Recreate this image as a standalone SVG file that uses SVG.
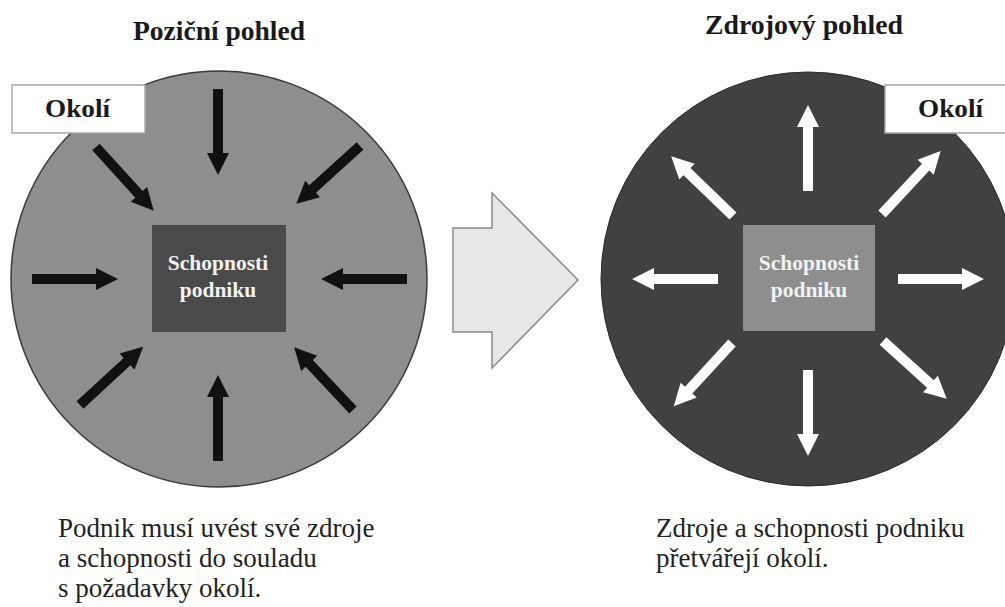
<svg xmlns="http://www.w3.org/2000/svg" xmlns:xlink="http://www.w3.org/1999/xlink" width="1005" height="607" viewBox="0 0 1005 607">
<style>
.title{font-family:"Liberation Serif",serif;font-weight:bold;font-size:27px;fill:#1a1a1a}
.okoli{font-family:"Liberation Serif",serif;font-weight:bold;font-size:26px;fill:#1a1a1a}
.inner{font-family:"Liberation Serif",serif;font-weight:bold;font-size:21.5px;fill:#f2f2f2;text-anchor:middle}
.body{font-family:"Liberation Serif",serif;font-size:27px;fill:#222}
.box{fill:#fff;stroke:#a8a8a8;stroke-width:1.5}
.blk{fill:#111}
.wht{fill:#fff}
</style>
<defs>
<path id="arr" d="M0,-5 H64 V-11 L86,0 L64,11 V5 H0 Z"/>
</defs>
<rect width="1005" height="607" fill="#fff"/>

<g id="left-view">
  <text class="title" x="133" y="40" textLength="172" lengthAdjust="spacingAndGlyphs">Poziční pohled</text>
  <circle cx="219" cy="279" r="208" fill="#8e8e8e" stroke="#3a3a3a" stroke-width="1.5"/>
  <g id="left-okoli">
    <rect class="box" x="12" y="85" width="133" height="48"/>
    <text class="okoli" x="45" y="117" textLength="65" lengthAdjust="spacingAndGlyphs">Okolí</text>
  </g>
  <g id="left-core">
    <rect x="152" y="225" width="134" height="107" fill="#4a4a4a"/>
    <text class="inner" x="218" y="270">Schopnosti</text>
    <text class="inner" x="218" y="297">podniku</text>
  </g>
</g>

<g id="right-view">
  <text class="title" x="705" y="34" textLength="198" lengthAdjust="spacingAndGlyphs">Zdrojový pohled</text>
  <circle cx="808" cy="279" r="207" fill="#414141" stroke="#2a2a2a" stroke-width="1"/>
  <g id="right-okoli">
    <rect class="box" x="885" y="85" width="130" height="48"/>
    <text class="okoli" x="918" y="117" textLength="65" lengthAdjust="spacingAndGlyphs">Okolí</text>
  </g>
  <g id="right-core">
    <rect x="743" y="225" width="132" height="106" fill="#8e8e8e"/>
    <text class="inner" x="809" y="270">Schopnosti</text>
    <text class="inner" x="809" y="297">podniku</text>
  </g>
</g>

<g id="transition">
  <polygon points="453,228 492,228 492,193 578,280 492,368 492,332 453,332" fill="#e8e8e8" stroke="#8a8a8a" stroke-width="1.5"/>
</g>

<g id="connectors">
  <g class="blk">
    <use xlink:href="#arr" transform="translate(218,89) rotate(90)"/>
    <use xlink:href="#arr" transform="translate(96,147) rotate(47.8)"/>
    <use xlink:href="#arr" transform="translate(360,146) rotate(137.8)"/>
    <use xlink:href="#arr" transform="translate(32,279) rotate(0)"/>
    <use xlink:href="#arr" transform="translate(407,279) rotate(180)"/>
    <use xlink:href="#arr" transform="translate(80,405) rotate(-42.7)"/>
    <use xlink:href="#arr" transform="translate(218,461) rotate(-90)"/>
    <use xlink:href="#arr" transform="translate(353,410) rotate(-133.2)"/>
  </g>
  <g class="wht">
    <use xlink:href="#arr" transform="translate(808,191) rotate(-90)"/>
    <use xlink:href="#arr" transform="translate(733,216) rotate(-136)"/>
    <use xlink:href="#arr" transform="translate(882,214) rotate(-47)"/>
    <use xlink:href="#arr" transform="translate(718,279) rotate(180)"/>
    <use xlink:href="#arr" transform="translate(898,279) rotate(0)"/>
    <use xlink:href="#arr" transform="translate(732,343) rotate(132.6)"/>
    <use xlink:href="#arr" transform="translate(808,370) rotate(90)"/>
    <use xlink:href="#arr" transform="translate(883,341) rotate(42.2)"/>
  </g>
</g>

<g id="captions">
  <text class="body" x="58" y="537">Podnik musí uvést své zdroje</text>
  <text class="body" x="58" y="567">a schopnosti do souladu</text>
  <text class="body" x="58" y="597">s požadavky okolí.</text>
  <text class="body" x="656" y="537">Zdroje a schopnosti podniku</text>
  <text class="body" x="656" y="567">přetvářejí okolí.</text>
</g>
</svg>
